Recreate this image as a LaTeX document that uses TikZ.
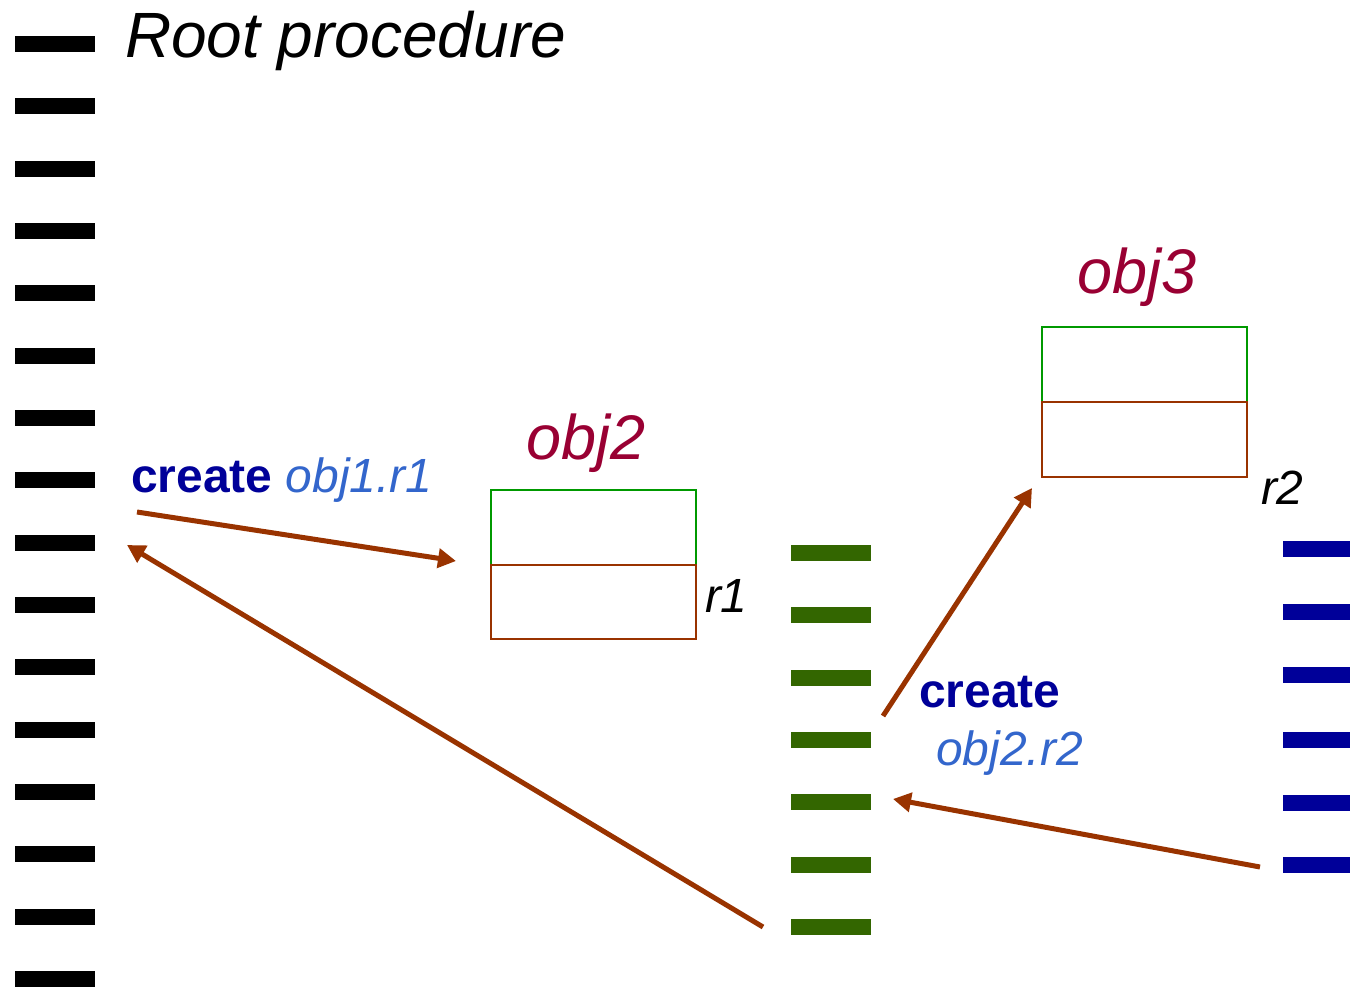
\documentclass[tikz,border=0pt]{standalone}
\usepackage{fontspec}
\setmainfont{Liberation Sans}
\usetikzlibrary{arrows.meta}
\definecolor{objred}{HTML}{990033}
\definecolor{createblue}{HTML}{000099}
\definecolor{reflblue}{HTML}{3366CC}
\definecolor{arrowbrown}{HTML}{993300}
\definecolor{dashgreen}{HTML}{336600}
\definecolor{dashblue}{HTML}{000099}
\definecolor{boxgreen}{HTML}{009900}
\definecolor{boxbrown}{HTML}{993300}
\begin{document}
\begin{tikzpicture}[x=1pt,y=-1pt,
  dashbar/.style={fill=#1, draw=none, minimum width=80pt, minimum height=16pt, inner sep=0pt, outer sep=0pt},
  halfbox/.style={draw=#1, line width=2pt, minimum width=205pt, minimum height=74.5pt, inner sep=0pt, outer sep=0pt},
  lbl/.style={inner sep=0pt, outer sep=0pt, anchor=base west},
  bigital/.style={lbl, font=\fontsize{64}{76}\selectfont\itshape},
  objlabel/.style={lbl, text=objred, font=\fontsize{63}{75}\selectfont\itshape},
  reflabel/.style={lbl, font=\fontsize{48}{57}\selectfont\itshape},
  createlabel/.style={lbl, text=createblue, font=\fontsize{48}{57}\selectfont\bfseries},
  conn/.style={draw=arrowbrown, line width=5pt, -{Triangle[length=18pt,width=19pt]}}
]
\useasboundingbox (0,0) rectangle (1350,987);

% root procedure dashes
\foreach \i in {0,...,15}
  \node[dashbar=black] (b\i) at (55, {44+62.33*\i}) {};
% obj2 procedure dashes (green)
\foreach \i in {0,...,6}
  \node[dashbar=dashgreen] (g\i) at (831, {553+62.33*\i}) {};
% obj3 procedure dashes (blue)
\foreach \y [count=\i] in {549,612,674.5,740,803,865}
  \node[dashbar=dashblue, minimum width=67pt] (u\i) at (1316.5, \y) {};

% labels
\node[bigital] (root) at (125,58) {Root procedure};
\node[createlabel] (c1) at (131,492) {create \textcolor{reflblue}{\mdseries\itshape obj1.r1}};
\node[createlabel] (c2) at (919,707) {create};
\node[reflabel, text=reflblue] (c2ref) at (936,765) {obj2.r2};

% obj2
\node[objlabel] (obj2) at (526,459) {obj2};
\node[halfbox=boxgreen] (obj2top) at (593.5,527.5) {};
\node[halfbox=boxbrown] (obj2bot) at (593.5,602) {};
\node[reflabel] (r1) at (705,612) {r1};

% obj3
\node[objlabel] (obj3) at (1077,294) {obj3};
\node[halfbox=boxgreen] (obj3top) at (1144.5,364.5) {};
\node[halfbox=boxbrown] (obj3bot) at (1144.5,439.5) {};
\node[reflabel] (r2) at (1261,504) {r2};

% connector ends
\coordinate (a1s) at (137,512);
\coordinate (a1e) at (456,561);
\coordinate (a2s) at (763,927);
\coordinate (a2e) at (127,545);
\coordinate (a3s) at (883,716);
\coordinate (a3e) at (1032,488);
\coordinate (a4s) at (1260,867);
\coordinate (a4e) at (893,799);

\draw[conn] (a1s) -- (a1e);
\draw[conn] (a2s) -- (a2e);
\draw[conn] (a3s) -- (a3e);
\draw[conn] (a4s) -- (a4e);
\end{tikzpicture}
\end{document}
